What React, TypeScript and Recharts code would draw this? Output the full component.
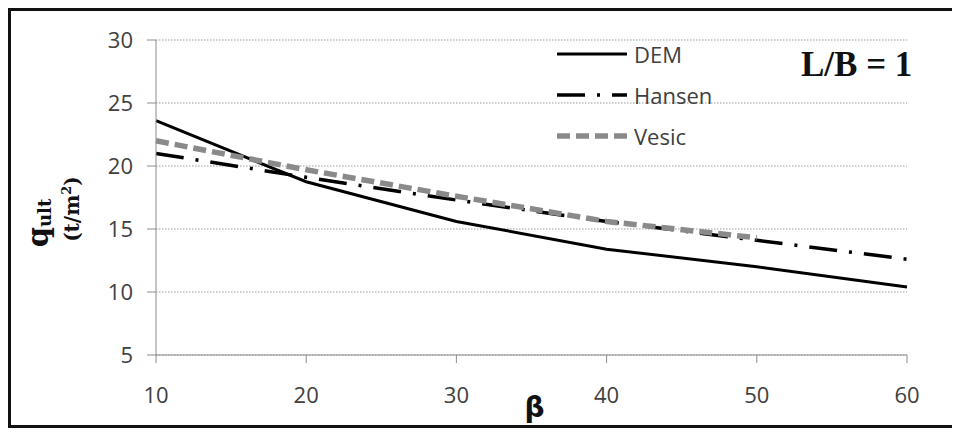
import React from "react";
import { LineChart, Line, XAxis, YAxis, CartesianGrid, Label } from "recharts";

const betaValues = [10, 20, 30, 40, 50, 60];
const demValues = [23.6, 18.75, 15.6, 13.4, 12.0, 10.4];
const hansenValues = [21.0, 19.1, 17.3, 15.6, 14.1, 12.6];
const vesicValues: (number | null)[] = [22.0, 19.7, 17.6, 15.6, 14.3, null];
const xTicks = [10, 20, 30, 40, 50, 60];
const yTicks = [5, 10, 15, 20, 25, 30];

const series = [
  { key: "dem", name: "DEM", color: "#000000", width: 3, dash: undefined as string | undefined },
  { key: "hansen", name: "Hansen", color: "#000000", width: 3.5, dash: "28 12 3 12" },
  { key: "vesic", name: "Vesic", color: "#8a8a8a", width: 5.5, dash: "13 6" },
];

const data = betaValues.map((b, i) => ({
  beta: b,
  dem: demValues[i],
  hansen: hansenValues[i],
  vesic: vesicValues[i],
}));

const tickStyle = { fill: "#404040", fontSize: 22, fontFamily: "'Open Sans', sans-serif" };

const YLabel = () => (
  <g>
    <text
      transform="translate(37,212) rotate(-90)"
      textAnchor="middle"
      fontFamily="'DejaVu Serif', serif"
      fontWeight="bold"
      fill="#111"
    >
      <tspan fontSize={29}>q</tspan>
      <tspan fontSize={18} dy={3}>ult</tspan>
    </text>
    <text
      transform="translate(68,198) rotate(-90)"
      textAnchor="middle"
      fontFamily="'DejaVu Serif', serif"
      fontWeight="bold"
      fill="#111"
      fontSize={20}
    >
      <tspan>(t/m</tspan>
      <tspan fontSize={13} dy={-8}>2</tspan>
      <tspan dy={8}>)</tspan>
    </text>
  </g>
);

const XLabel = (props: any) => {
  const vb = props.viewBox || { x: 0, y: 0, width: 0 };
  return (
    <text
      x={vb.x + vb.width / 2 + 3}
      y={vb.y + 62}
      textAnchor="middle"
      fontFamily="'DejaVu Sans', sans-serif"
      fontWeight="bold"
      fontSize={28}
      fill="#111"
    >
      β
    </text>
  );
};

export default function App() {
  return (
    <div
      style={{
        position: "relative",
        width: 952,
        height: 414,
        borderLeft: "3px solid #111",
        borderTop: "3px solid #111",
        borderBottom: "3px solid #111",
        background: "#fff",
      }}
    >
      <LineChart width={949} height={414} data={data} margin={{ top: 29, right: 53, bottom: 0, left: 0 }}>
        <CartesianGrid vertical={false} stroke="#9a9a9a" strokeDasharray="1.5 1.5" />
        <XAxis
          dataKey="beta"
          type="number"
          domain={[10, 60]}
          ticks={xTicks}
          height={70}
          tickSize={8}
          tickMargin={24}
          stroke="#8c8c8c"
          tick={tickStyle}
          tickLine={{ stroke: "#8c8c8c" }}
        >
          <Label content={<XLabel />} />
        </XAxis>
        <YAxis
          type="number"
          domain={[5, 30]}
          ticks={yTicks}
          width={145}
          tickSize={9}
          tickMargin={14}
          stroke="#8c8c8c"
          tick={tickStyle}
          tickLine={{ stroke: "#8c8c8c" }}
        >
          <Label content={<YLabel />} />
        </YAxis>
        {series.map((s) => (
          <Line
            key={s.key}
            dataKey={s.key}
            name={s.name}
            type="linear"
            stroke={s.color}
            strokeWidth={s.width}
            strokeDasharray={s.dash}
            dot={false}
            activeDot={false}
            isAnimationActive={false}
            connectNulls={false}
          />
        ))}
      </LineChart>
      <div style={{ position: "absolute", left: 546, top: 22 }}>
        {series.map((s) => (
          <div key={s.key} style={{ display: "flex", alignItems: "center", height: 41 }}>
            <svg width={70} height={30}>
              <line
                x1={0}
                y1={15}
                x2={70}
                y2={15}
                stroke={s.color}
                strokeWidth={s.width}
                strokeDasharray={s.dash}
              />
            </svg>
            <span
              style={{
                marginLeft: 7,
                fontFamily: "'Open Sans', sans-serif",
                fontSize: 22,
                color: "#404040",
                lineHeight: "30px",
              }}
            >
              {s.name}
            </span>
          </div>
        ))}
      </div>
      <div
        style={{
          position: "absolute",
          left: 790,
          top: 34,
          fontFamily: "'Liberation Serif', serif",
          fontWeight: "bold",
          fontSize: 35,
          color: "#111",
          lineHeight: "40px",
          whiteSpace: "nowrap",
        }}
      >
        L/B = 1
      </div>
    </div>
  );
}
